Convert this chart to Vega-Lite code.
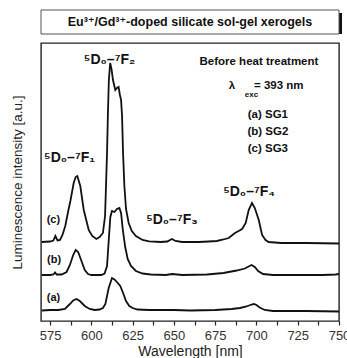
{
  "$schema": "https://vega.github.io/schema/vega-lite/v6.json",
  "padding": {"left": 9, "top": 9, "right": 5, "bottom": 0},
  "spacing": 7,
  "background": "white",
  "config": {
    "font": "Liberation Sans, Arial, DejaVu Sans, sans-serif",
    "view": {"stroke": null}
  },
  "datasets": {
    "spectra": [
      {"wl": 570, "v": 10.5, "s": "a"}, {"wl": 575, "v": 11, "s": "a"}, {"wl": 580, "v": 11, "s": "a"}, {"wl": 584, "v": 12, "s": "a"}, {"wl": 587, "v": 17, "s": "a"}, {"wl": 589, "v": 20.5, "s": "a"}, {"wl": 591, "v": 22, "s": "a"}, {"wl": 593, "v": 20, "s": "a"}, {"wl": 596, "v": 15, "s": "a"}, {"wl": 599, "v": 12, "s": "a"}, {"wl": 602, "v": 11, "s": "a"}, {"wl": 605, "v": 11.5, "s": "a"}, {"wl": 607, "v": 13, "s": "a"}, {"wl": 608.5, "v": 17, "s": "a"}, {"wl": 610.5, "v": 33, "s": "a"}, {"wl": 612.5, "v": 43, "s": "a"}, {"wl": 614, "v": 41.5, "s": "a"}, {"wl": 616, "v": 38, "s": "a"}, {"wl": 617.5, "v": 35, "s": "a"}, {"wl": 619, "v": 29, "s": "a"}, {"wl": 621, "v": 20, "s": "a"}, {"wl": 623, "v": 15, "s": "a"}, {"wl": 625, "v": 13, "s": "a"}, {"wl": 628, "v": 11.5, "s": "a"}, {"wl": 635, "v": 11, "s": "a"}, {"wl": 650, "v": 11, "s": "a"}, {"wl": 660, "v": 10.5, "s": "a"}, {"wl": 675, "v": 11, "s": "a"}, {"wl": 685, "v": 12, "s": "a"}, {"wl": 690, "v": 13, "s": "a"}, {"wl": 694, "v": 14.5, "s": "a"}, {"wl": 697, "v": 16.5, "s": "a"}, {"wl": 698.5, "v": 17, "s": "a"}, {"wl": 700, "v": 16, "s": "a"}, {"wl": 702, "v": 13.5, "s": "a"}, {"wl": 705, "v": 11, "s": "a"}, {"wl": 710, "v": 10, "s": "a"}, {"wl": 730, "v": 10, "s": "a"}, {"wl": 750, "v": 9.5, "s": "a"},

      {"wl": 570, "v": 46, "s": "b"}, {"wl": 575, "v": 46, "s": "b"}, {"wl": 577, "v": 46.5, "s": "b"}, {"wl": 578, "v": 48.5, "s": "b"}, {"wl": 579, "v": 46.5, "s": "b"}, {"wl": 582, "v": 46.5, "s": "b"}, {"wl": 585, "v": 49, "s": "b"}, {"wl": 587, "v": 56, "s": "b"}, {"wl": 589, "v": 66, "s": "b"}, {"wl": 590.5, "v": 71, "s": "b"}, {"wl": 592, "v": 69, "s": "b"}, {"wl": 594, "v": 60, "s": "b"}, {"wl": 596, "v": 51, "s": "b"}, {"wl": 598, "v": 47, "s": "b"}, {"wl": 600, "v": 46, "s": "b"}, {"wl": 606, "v": 46, "s": "b"}, {"wl": 608, "v": 47.5, "s": "b"}, {"wl": 609.5, "v": 55, "s": "b"}, {"wl": 610.5, "v": 80, "s": "b"}, {"wl": 611.5, "v": 104, "s": "b"}, {"wl": 612.5, "v": 110, "s": "b"}, {"wl": 614, "v": 109, "s": "b"}, {"wl": 615.5, "v": 112, "s": "b"}, {"wl": 617, "v": 113, "s": "b"}, {"wl": 618, "v": 108, "s": "b"}, {"wl": 619, "v": 92, "s": "b"}, {"wl": 620.5, "v": 74, "s": "b"}, {"wl": 622, "v": 62, "s": "b"}, {"wl": 624, "v": 55, "s": "b"}, {"wl": 627, "v": 50, "s": "b"}, {"wl": 631, "v": 47.5, "s": "b"}, {"wl": 636, "v": 46.5, "s": "b"}, {"wl": 645, "v": 46, "s": "b"}, {"wl": 649, "v": 47, "s": "b"}, {"wl": 655, "v": 46, "s": "b"}, {"wl": 670, "v": 46.5, "s": "b"}, {"wl": 680, "v": 48, "s": "b"}, {"wl": 688, "v": 50.5, "s": "b"}, {"wl": 693, "v": 52.5, "s": "b"}, {"wl": 697, "v": 56, "s": "b"}, {"wl": 699, "v": 54, "s": "b"}, {"wl": 701, "v": 50, "s": "b"}, {"wl": 704, "v": 47, "s": "b"}, {"wl": 710, "v": 46, "s": "b"}, {"wl": 740, "v": 46, "s": "b"}, {"wl": 748, "v": 46.5, "s": "b"}, {"wl": 750, "v": 47, "s": "b"},

      {"wl": 570, "v": 79, "s": "c"}, {"wl": 575, "v": 79.5, "s": "c"}, {"wl": 577, "v": 80.5, "s": "c"}, {"wl": 578.2, "v": 85, "s": "c"}, {"wl": 579.5, "v": 80.5, "s": "c"}, {"wl": 581, "v": 81, "s": "c"}, {"wl": 582.5, "v": 86, "s": "c"}, {"wl": 584.2, "v": 95, "s": "c"}, {"wl": 586, "v": 110, "s": "c"}, {"wl": 587.3, "v": 120, "s": "c"}, {"wl": 589.3, "v": 138, "s": "c"}, {"wl": 590.5, "v": 144, "s": "c"}, {"wl": 591.5, "v": 145, "s": "c"}, {"wl": 593.3, "v": 135, "s": "c"}, {"wl": 595.4, "v": 111, "s": "c"}, {"wl": 598.4, "v": 91, "s": "c"}, {"wl": 600.5, "v": 85, "s": "c"}, {"wl": 603, "v": 82, "s": "c"}, {"wl": 605, "v": 84, "s": "c"}, {"wl": 607, "v": 88, "s": "c"}, {"wl": 608.3, "v": 105, "s": "c"}, {"wl": 609.5, "v": 168, "s": "c"}, {"wl": 610, "v": 205, "s": "c"}, {"wl": 610.6, "v": 241, "s": "c"}, {"wl": 611.4, "v": 258, "s": "c"}, {"wl": 612.2, "v": 252, "s": "c"}, {"wl": 613.1, "v": 241, "s": "c"}, {"wl": 614.5, "v": 231, "s": "c"}, {"wl": 615.5, "v": 233, "s": "c"}, {"wl": 616.5, "v": 234, "s": "c"}, {"wl": 617.3, "v": 226, "s": "c"}, {"wl": 618, "v": 221, "s": "c"}, {"wl": 618.6, "v": 205, "s": "c"}, {"wl": 619.2, "v": 168, "s": "c"}, {"wl": 620, "v": 135, "s": "c"}, {"wl": 621, "v": 112, "s": "c"}, {"wl": 622.6, "v": 98, "s": "c"}, {"wl": 624.5, "v": 90, "s": "c"}, {"wl": 627, "v": 85, "s": "c"}, {"wl": 631, "v": 81, "s": "c"}, {"wl": 635, "v": 79.7, "s": "c"}, {"wl": 642, "v": 79, "s": "c"}, {"wl": 646, "v": 79.5, "s": "c"}, {"wl": 648.8, "v": 82, "s": "c"}, {"wl": 651, "v": 80, "s": "c"}, {"wl": 655, "v": 79, "s": "c"}, {"wl": 665, "v": 79, "s": "c"}, {"wl": 671, "v": 79.5, "s": "c"}, {"wl": 676, "v": 80, "s": "c"}, {"wl": 680, "v": 81.5, "s": "c"}, {"wl": 683.2, "v": 83, "s": "c"}, {"wl": 687, "v": 88, "s": "c"}, {"wl": 689.2, "v": 90, "s": "c"}, {"wl": 691.3, "v": 92, "s": "c"}, {"wl": 693.5, "v": 98, "s": "c"}, {"wl": 695.3, "v": 111, "s": "c"}, {"wl": 697.3, "v": 118, "s": "c"}, {"wl": 699, "v": 113, "s": "c"}, {"wl": 701.4, "v": 101, "s": "c"}, {"wl": 703.4, "v": 86, "s": "c"}, {"wl": 705.5, "v": 81, "s": "c"}, {"wl": 707.4, "v": 79, "s": "c"}, {"wl": 715, "v": 78, "s": "c"}, {"wl": 730, "v": 78, "s": "c"}, {"wl": 750, "v": 77.5, "s": "c"}
    ],
    "transitions": [
      {"wl": 611, "v": 261, "t": "⁵D₀–⁷F₂"},
      {"wl": 586.8, "v": 163, "t": "⁵D₀–⁷F₁"},
      {"wl": 648.8, "v": 101, "t": "⁵D₀–⁷F₃"},
      {"wl": 695.5, "v": 129, "t": "⁵D₀–⁷F₄"}
    ],
    "tags": [
      {"wl": 577, "v": 101, "t": "(c)"},
      {"wl": 577.4, "v": 61, "t": "(b)"},
      {"wl": 577.1, "v": 23, "t": "(a)"}
    ],
    "info": [
      {"wl": 701.5, "v": 259, "t": "Before heat treatment"},
      {"wl": 706.9, "v": 206, "t": "(a) SG1"},
      {"wl": 706.9, "v": 189, "t": "(b) SG2"},
      {"wl": 706.9, "v": 172, "t": "(c) SG3"},
      {"wl": 685.2, "v": 235, "t": "λ"},
      {"wl": 713.5, "v": 235, "t": "= 393 nm"}
    ],
    "sub": [
      {"wl": 697, "v": 226, "t": "exc"}
    ]
  },
  "vconcat": [
    {
      "width": 298,
      "height": 24,
      "data": {"values": [{"title": "Eu³⁺/Gd³⁺-doped silicate sol-gel xerogels"}]},
      "layer": [
        {"mark": {"type": "rect", "fill": "#111", "xOffset": 3, "x2Offset": 3, "yOffset": 3, "y2Offset": 3}, "encoding": {}},
        {"mark": {"type": "rect", "fill": "white", "stroke": "#555", "strokeWidth": 1}, "encoding": {}},
        {"mark": {"type": "text", "fontWeight": "bold", "fontSize": 12.5, "color": "#111"}, "encoding": {"text": {"field": "title"}}}
      ]
    },
    {
      "width": 298,
      "height": 278,
      "view": {"stroke": "#222", "strokeWidth": 1.4},
      "encoding": {
        "x": {"field": "wl", "type": "quantitative",
          "scale": {"domain": [569.5, 750], "nice": false, "zero": false},
          "axis": {"title": "Wavelength [nm]", "values": [575, 587.5, 600, 612.5, 625, 637.5, 650, 662.5, 675, 687.5, 700, 712.5, 725, 737.5, 750],
            "labelExpr": "datum.value % 25 === 0 ? datum.label : ''", "format": "d",
            "grid": false, "domain": false, "tickSize": 4, "tickColor": "#222", "tickWidth": 1.2,
            "labelFlush": false, "labelOverlap": false, "labelFontSize": 13, "labelColor": "#333", "labelPadding": 4,
            "titleFontSize": 14, "titleFontWeight": "normal", "titleColor": "#222", "titlePadding": 2}},
        "y": {"field": "v", "type": "quantitative",
          "scale": {"domain": [0, 278], "nice": false, "zero": false},
          "axis": {"title": "Luminescence intensity [a.u.]", "labels": false, "ticks": false, "domain": false, "grid": false,
            "titleFontSize": 13.5, "titleFontWeight": "normal", "titleColor": "#222", "titlePadding": 17}}
      },
      "layer": [
        {"data": {"name": "spectra"}, "mark": {"type": "line", "color": "#111", "strokeWidth": 1.8}, "encoding": {"detail": {"field": "s"}}},
        {"data": {"name": "transitions"}, "mark": {"type": "text", "fontSize": 14, "fontWeight": "bold", "color": "#111"}, "encoding": {"text": {"field": "t"}}},
        {"data": {"name": "tags"}, "mark": {"type": "text", "fontSize": 11, "fontWeight": "bold", "color": "#111"}, "encoding": {"text": {"field": "t"}}},
        {"data": {"name": "info"}, "mark": {"type": "text", "fontSize": 11.5, "fontWeight": "bold", "color": "#111"}, "encoding": {"text": {"field": "t"}}},
        {"data": {"name": "sub"}, "mark": {"type": "text", "fontSize": 8, "fontWeight": "bold", "color": "#111"}, "encoding": {"text": {"field": "t"}}}
      ]
    }
  ]
}
